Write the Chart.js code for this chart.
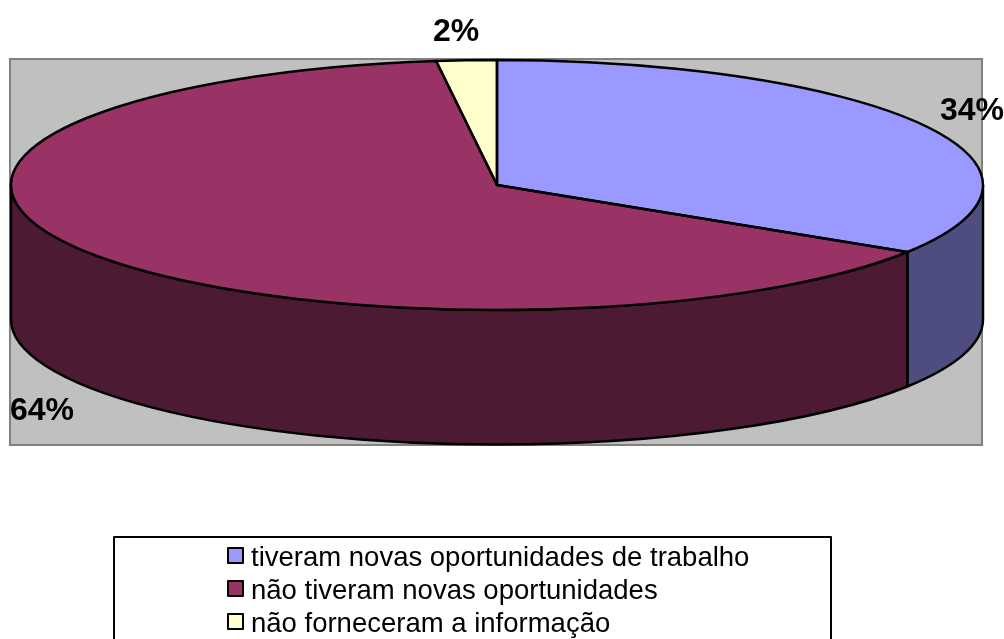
<!DOCTYPE html>
<html>
<head>
<meta charset="utf-8">
<title>Oportunidades de trabalho</title>
<script src="https://cdn.jsdelivr.net/npm/chart.js@4"></script>
<style>
    html, body { margin: 0; padding: 0; background: #fff; overflow: hidden; }
    canvas { display: block; }
</style>
</head>
<body>
<canvas id="pie" width="1004" height="639"></canvas>
<script>
const categories = ['tiveram novas oportunidades de trabalho', 'não tiveram novas oportunidades', 'não forneceram a informação'];
const values = [34, 64, 2];
const valueLabels = ['34%', '64%', '2%'];
const topColors = ['#9999FF', '#993366', '#FFFFCC'];
const sideColors = ['#4D4D80', '#4D1A33', '#80806A'];

// geometry of the tilted pie, in canvas pixels
const cx = 497, cy = 185, rx = 486, ry = 125, depth = 134.5;
const labelPos = [[940, 120], [10, 420], [433, 41]];

function sidePath(ctx, a0, a1) {
    ctx.beginPath();
    ctx.ellipse(cx, cy, rx, ry, 0, a0, a1);
    ctx.lineTo(cx + rx * Math.cos(a1), cy + depth + ry * Math.sin(a1));
    ctx.ellipse(cx, cy + depth, rx, ry, 0, a1, a0, true);
    ctx.closePath();
}

const pie3d = {
    id: 'pie3d',
    beforeDatasetsDraw(chart) {
        const ctx = chart.ctx;
        // gray plot background
        ctx.save();
        ctx.fillStyle = '#C0C0C0';
        ctx.strokeStyle = '#808080';
        ctx.lineWidth = 2;
        ctx.fillRect(10, 59, 972, 386);
        ctx.strokeRect(10, 59, 972, 386);

        // side wall, only the front half of the ellipse shows
        ctx.lineWidth = 2.5;
        ctx.strokeStyle = '#000';
        chart.getDatasetMeta(0).data.forEach((arc, i) => {
            const a0 = Math.max(arc.startAngle, 0);
            const a1 = Math.min(arc.endAngle, Math.PI);
            if (a1 <= a0) return;
            sidePath(ctx, a0, a1);
            ctx.fillStyle = sideColors[i];
            ctx.fill();
            ctx.stroke();
        });
        ctx.restore();
    },
    beforeDatasetDraw(chart) {
        const arc = chart.getDatasetMeta(0).data[0];
        const ctx = chart.ctx;
        ctx.save();
        ctx.translate(cx, cy);
        ctx.scale(rx / arc.outerRadius, ry / arc.outerRadius);
        ctx.translate(-arc.x, -arc.y);
    },
    afterDatasetDraw(chart) {
        chart.ctx.restore();
    },
    afterDatasetsDraw(chart) {
        const ctx = chart.ctx;
        ctx.save();
        // slice outlines, stroked here so the line width stays even
        ctx.lineWidth = 2.5;
        ctx.strokeStyle = '#000';
        ctx.lineJoin = 'round';
        chart.getDatasetMeta(0).data.forEach(arc => {
            ctx.beginPath();
            ctx.moveTo(cx, cy);
            ctx.ellipse(cx, cy, rx, ry, 0, arc.startAngle, arc.endAngle);
            ctx.closePath();
            ctx.stroke();
        });

        ctx.fillStyle = '#000';
        ctx.textBaseline = 'alphabetic';
        ctx.font = 'bold 32px "Liberation Sans"';
        valueLabels.forEach((t, i) => ctx.fillText(t, labelPos[i][0], labelPos[i][1]));

        // legend box runs off the bottom of the picture
        ctx.fillStyle = '#fff';
        ctx.strokeStyle = '#000';
        ctx.lineWidth = 2;
        ctx.fillRect(114, 537, 717, 110);
        ctx.strokeRect(114, 537, 717, 110);
        ctx.font = '27.5px "Liberation Sans"';
        categories.forEach((c, i) => {
            const y = 566 + i * 33;
            ctx.fillStyle = topColors[i];
            ctx.fillRect(228, y - 18, 15, 15);
            ctx.strokeRect(228, y - 18, 15, 15);
            ctx.fillStyle = '#000';
            ctx.fillText(c, 251, y);
        });
        ctx.restore();
    }
};

new Chart(document.getElementById('pie'), {
    type: 'pie',
    data: {
        labels: categories,
        datasets: [{
            data: values,
            backgroundColor: topColors,
            borderWidth: 0
        }]
    },
    options: {
        responsive: false,
        animation: false,
        events: [],
        plugins: {
            legend: { display: false },
            tooltip: { enabled: false }
        }
    },
    plugins: [pie3d]
});
</script>
</body>
</html>
